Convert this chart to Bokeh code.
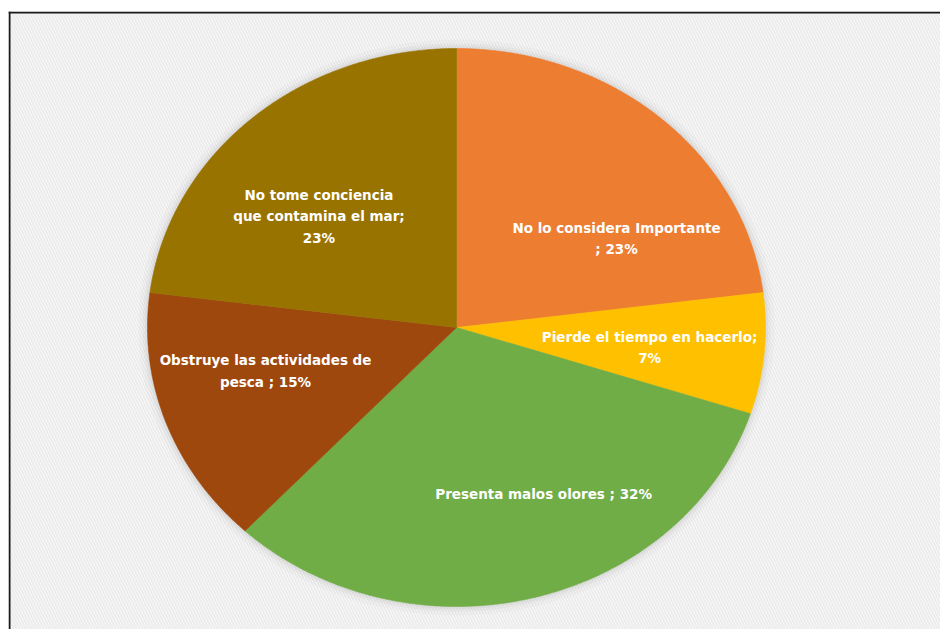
import numpy as np
from bokeh.plotting import figure
from bokeh.models import Range1d, BoxAnnotation, Span, ColumnDataSource
from bokeh.core.properties import value
from bokeh.embed import file_html
from bokeh.resources import INLINE

# ---- data ----
categories = ["No lo considera Importante ", "Pierde el tiempo en hacerlo",
              "Presenta malos olores ", "Obstruye las actividades de pesca ",
              "No tome conciencia que contamina el mar"]
percentages = [23, 7, 32, 15, 23]
label_texts = ["No lo considera Importante\n; 23%",
               "Pierde el tiempo en hacerlo;\n7%",
               "Presenta malos olores ; 32%",
               "Obstruye las actividades de\npesca ; 15%",
               "No tome conciencia\nque contamina el mar;\n23%"]
colors = ["#ED7D31", "#FFC000", "#70AD47", "#9E480E", "#997300"]
# label anchor positions (unit-pie coordinates)
label_x = [0.518, 0.625, 0.282, -0.618, -0.445]
label_y = [0.319, -0.072, -0.595, -0.156, 0.398]

# ---- layout (pixels) ----
W, H = 940, 629
left_border = 8
top_border = 11
frame_w = W - left_border
frame_h = H - top_border
cx_px, cy_px = 448, 316      # pie centre inside frame
rx_px, ry_px = 309, 279      # pie radii on screen

x_range = Range1d(-cx_px / rx_px, (frame_w - cx_px) / rx_px)
y_range = Range1d(-(frame_h - cy_px) / ry_px, cy_px / ry_px)

p = figure(width=W, height=H, x_range=x_range, y_range=y_range,
           output_backend="svg", toolbar_location=None,
           min_border_left=left_border, min_border_right=0,
           min_border_top=top_border, min_border_bottom=0)
p.axis.visible = False
p.grid.visible = False
p.outline_line_color = None
p.background_fill_color = "#fcfcfc"
p.border_fill_color = "white"

bg = BoxAnnotation(fill_color="#fcfcfc", fill_alpha=1.0, line_color=None,
                   hatch_pattern="\\", hatch_color="#ececec", hatch_scale=6,
                   hatch_weight=2, level="underlay")
p.add_layout(bg)

# soft shadow around the pie
for k, a in [(9, 0.04), (5, 0.06), (2.5, 0.08)]:
    p.ellipse(x=0, y=0, width=2 + 2 * k / rx_px, height=2 + 2 * k / ry_px,
              fill_color="#7f7f7f", fill_alpha=a, line_color=None)

# pie slices: start at 12 o'clock, clockwise
vals = np.array(percentages, dtype=float)
ends = np.cumsum(vals) / vals.sum() * 2 * np.pi
starts = np.concatenate([[0.0], ends[:-1]])
xs, ys = [], []
for s, e in zip(starts, ends):
    t = np.linspace(s, e, 200)
    xs.append(np.concatenate([[0.0], np.sin(t), [0.0]]))
    ys.append(np.concatenate([[0.0], np.cos(t), [0.0]]))
src = ColumnDataSource(dict(xs=xs, ys=ys, color=colors, cat=categories))
p.patches("xs", "ys", source=src, fill_color="color", line_color="color",
          line_width=0.6)

lab = ColumnDataSource(dict(x=label_x, y=label_y, text=label_texts))
p.text("x", "y", text="text", source=lab, text_color="white",
       text_font=value("DejaVu Sans"), text_font_style="bold",
       text_font_size="13.5px", text_align="center", text_baseline="middle",
       text_line_height=1.34)

# chart frame (left and top edges visible)
p.add_layout(Span(location=x_range.start + 1.0 / rx_px, dimension="height",
                  line_color="#1a1a1a", line_width=2))
p.add_layout(Span(location=y_range.end - 1.0 / ry_px, dimension="width",
                  line_color="#1a1a1a", line_width=2))

open("out.html", "w").write(file_html(p, INLINE))
